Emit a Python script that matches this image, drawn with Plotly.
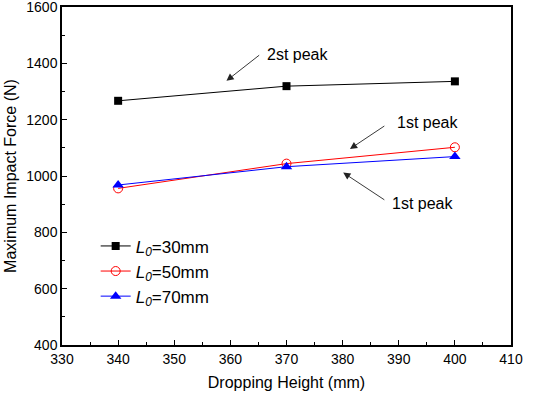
import plotly.graph_objects as go

heights = [340, 370, 400]
force_30 = [1267, 1319, 1336]
force_50 = [956, 1044, 1102]
force_70 = [968, 1033, 1069]
series_names = ["<i>L</i><sub><i>0</i></sub>=30mm", "<i>L</i><sub><i>0</i></sub>=50mm", "<i>L</i><sub><i>0</i></sub>=70mm"]

FONT = "Liberation Sans, Arial, sans-serif"

fig = go.Figure()
fig.add_trace(go.Scatter(x=heights, y=force_30, name=series_names[0], mode="lines+markers",
                         line=dict(color="black", width=1),
                         marker=dict(symbol="square", size=8, color="black")))
fig.add_trace(go.Scatter(x=heights, y=force_50, name=series_names[1], mode="lines+markers",
                         line=dict(color="red", width=1),
                         marker=dict(symbol="circle-open", size=9, color="red", line=dict(width=1))))
fig.add_trace(go.Scatter(x=heights, y=force_70, name=series_names[2], mode="lines+markers",
                         line=dict(color="blue", width=1),
                         marker=dict(symbol="triangle-up", size=10, color="blue")))

annots = [
    dict(text="2st peak", tx=372, ty=1433, ax=365.4, ay=1433, hx=359.3, hy=1338),
    dict(text="1st peak", tx=395.1, ty=1189, ax=387.7, ay=1181, hx=381.3, hy=1096),
    dict(text="1st peak", tx=394.3, ty=901, ax=387.7, ay=912, hx=380.1, hy=1012),
]
for a in annots:
    fig.add_annotation(x=a["tx"], y=a["ty"], text=a["text"], showarrow=False,
                       font=dict(family=FONT, size=16, color="black"))
    fig.add_annotation(x=a["hx"], y=a["hy"], ax=a["ax"], ay=a["ay"], axref="x", ayref="y",
                       text="", showarrow=True, arrowhead=2, arrowsize=1.6, arrowwidth=0.9,
                       arrowcolor="#222")

fig.update_layout(
    width=533, height=395,
    margin=dict(l=62, r=22, t=7, b=50, autoexpand=False),
    plot_bgcolor="white", paper_bgcolor="white",
    font=dict(family=FONT, size=14, color="black"),
    showlegend=True,
    legend=dict(x=0.075, y=0.345, xanchor="left", yanchor="top", bgcolor="rgba(0,0,0,0)",
                font=dict(family=FONT, size=17), itemwidth=30, tracegroupgap=0),
)
fig.update_xaxes(range=[330, 410], dtick=10, ticks="inside", ticklen=5, tickcolor="black",
                 minor=dict(dtick=5, ticks="inside", ticklen=3, tickcolor="black"),
                 showline=True, linecolor="black", linewidth=1.5, mirror=True,
                 showgrid=False, zeroline=False, automargin=False, ticklabeloverflow="allow",
                 title=dict(text="Dropping Height (mm)", font=dict(size=16), standoff=11))
fig.update_yaxes(range=[400, 1600], dtick=200, ticks="inside", ticklen=5, tickcolor="black",
                 minor=dict(dtick=100, ticks="inside", ticklen=3, tickcolor="black"),
                 showline=True, linecolor="black", linewidth=1.5, mirror=True,
                 showgrid=False, zeroline=False, automargin=False, ticklabeloverflow="allow",
                 title=dict(text="Maximum Impact Force (N)", font=dict(size=16), standoff=6))

fig.write_html("out.html", config={"displayModeBar": False},
               post_script="document.body.style.margin='0';")
